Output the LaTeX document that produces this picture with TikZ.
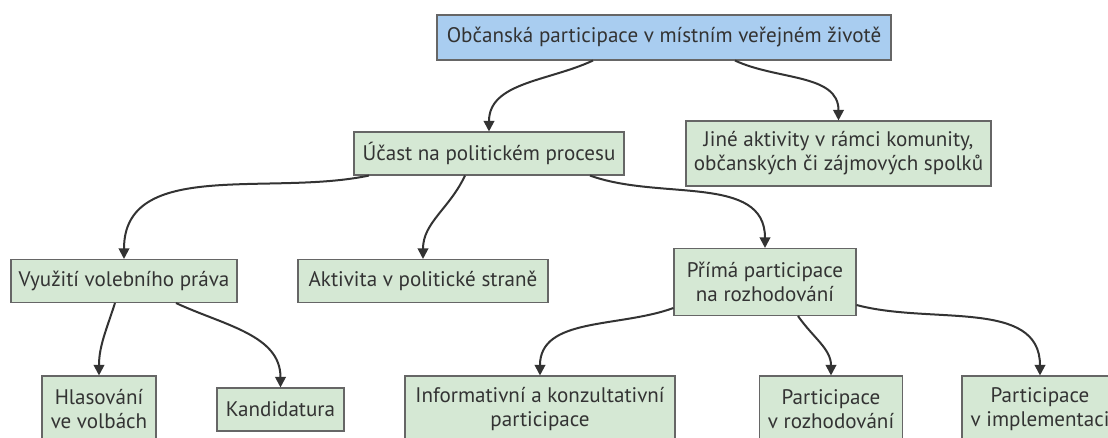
\documentclass[tikz,border=0pt]{standalone}
\usepackage{fontspec}
\setmainfont{PT Sans}
\usepackage{xcolor}
\usetikzlibrary{arrows.meta}
\usetikzlibrary{calc}

\definecolor{boxgreen}{HTML}{D5E8D4}
\definecolor{boxblue}{HTML}{A9CDF0}
\definecolor{boxline}{HTML}{666666}
\definecolor{inkgray}{HTML}{333333}

\begin{document}
\begin{tikzpicture}[x=0.75pt,y=0.75pt,
	every node/.style={font=\fontsize{15.8}{18}\selectfont,text=inkgray,align=center,inner sep=0pt},
	leaf/.style={draw=boxline,fill=boxgreen,line width=0.8pt,minimum height=#1*0.75pt},
	leaf/.default=43,
	link/.style={draw=inkgray,line width=1.5pt,-{Triangle[length=8pt,width=8pt]}}]
\clip (0,0) rectangle (1108,-438);
\fill[white] (0,0) rectangle (1108,-438);

	%koren
	\node[leaf=45,fill=boxblue,minimum width=454*0.75pt] (root) at (664,-37.5) {Občanská participace v místním veřejném životě};
	%druha uroven
	\node[leaf,minimum width=270*0.75pt] (ucast) at (489,-153.5) {Účast na politickém procesu};
	\node[leaf=65,minimum width=305*0.75pt] (jine) at (838.5,-153.5) {Jiné aktivity v rámci komunity,\\občanských či zájmových spolků};
	%treti uroven
	\node[leaf,minimum width=226*0.75pt] (volby) at (124,-281) {Využití volebního práva};
	\node[leaf,minimum width=250*0.75pt] (strana) at (423,-281) {Aktivita v politické straně};
	\node[leaf=67,minimum width=182*0.75pt] (prima) at (765,-282) {Přímá participace\\na rozhodování};
	%ctvrta uroven
	\node[leaf=66,minimum width=114*0.75pt] (hlas) at (99,-409) {Hlasování\\ve volbách};
	\node[leaf,minimum width=127*0.75pt] (kand) at (280.5,-409.5) {Kandidatura};
	\node[leaf=66,minimum width=270*0.75pt] (info) at (540,-409) {Informativní a konzultativní\\participace};
	\node[leaf=66,minimum width=143*0.75pt] (rozh) at (831,-409) {Participace\\v rozhodování};
	\node[leaf=66,minimum width=156*0.75pt] (impl) at (1040,-409) {Participace\\v implementaci};

	\draw[link] ($(root.south)+(-71,0)$) to[out=205,in=90] (ucast.north);
	\draw[link] ($(root.south)+(71,0)$) to[out=-25,in=90] (jine.north);
	\draw[link] ($(ucast.south)+(-120,0)$) to[out=192,in=90] (volby.north);
	\draw[link] ($(ucast.south)+(-24,0)$) to[out=245,in=90] (strana.north);
	\draw[link] ($(ucast.south)+(101,0)$) to[out=-20,in=90] (prima.north);
	\draw[link] ($(volby.south)+(-9,0)$) to[out=252,in=90] (hlas.north);
	\draw[link] ($(volby.south)+(52,0)$) to[out=-25,in=90] (kand.north);
	\draw[link] ($(prima.west)+(0,-26)$) to[out=200,in=90] (info.north);
	\draw[link] ($(prima.south)+(33,0)$) to[out=-55,in=90] (rozh.north);
	\draw[link] ($(prima.east)+(0,-23)$) to[out=-15,in=90] (impl.north);
\end{tikzpicture}
\end{document}
